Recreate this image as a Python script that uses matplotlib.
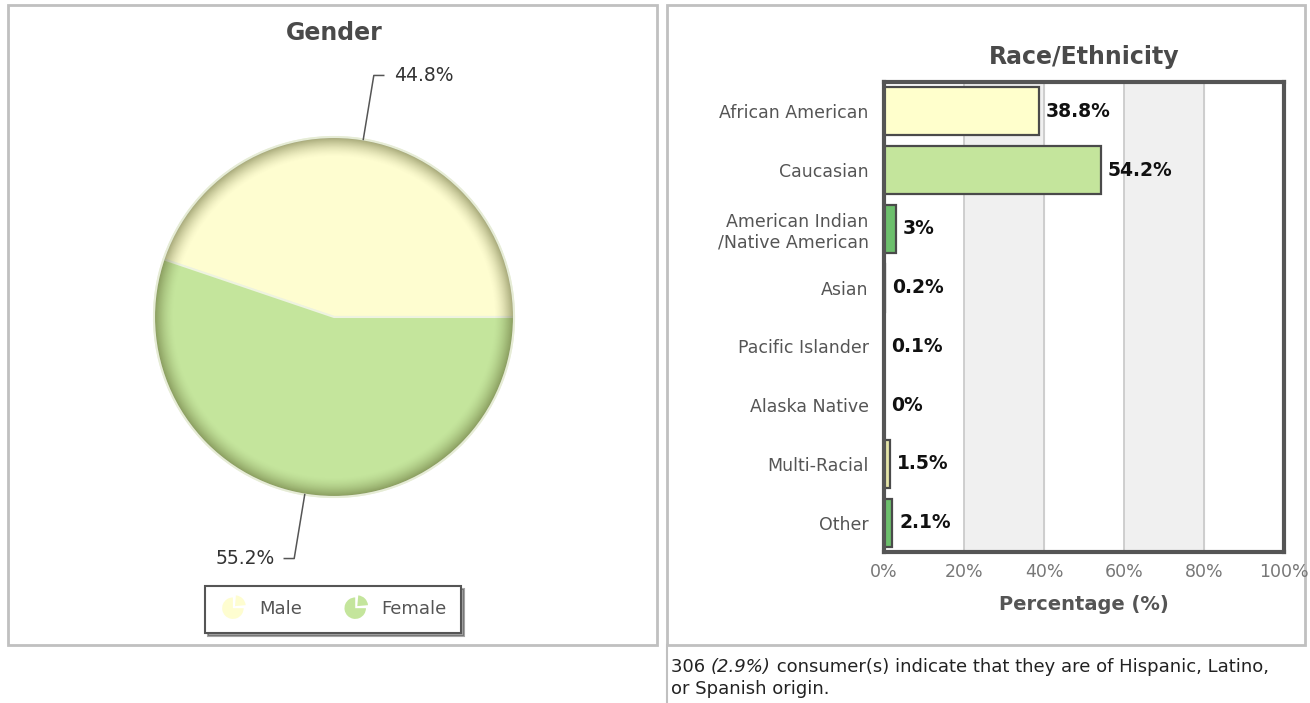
import numpy as np
import matplotlib
matplotlib.use("Agg")
import matplotlib.pyplot as plt
from matplotlib.patches import Wedge, Circle, Rectangle
from matplotlib.legend_handler import HandlerBase

# ---------------- data ----------------
gender_labels = ["Male", "Female"]
gender_values = [44.8, 55.2]
gender_colors = ["#FEFDD0", "#C4E59C"]

race_categories = ["African American", "Caucasian", "American Indian\n/Native American",
                   "Asian", "Pacific Islander", "Alaska Native", "Multi-Racial", "Other"]
race_values = [38.8, 54.2, 3, 0.2, 0.1, 0, 1.5, 2.1]
race_value_labels = ["38.8%", "54.2%", "3%", "0.2%", "0.1%", "0%", "1.5%", "2.1%"]
race_colors = ["#FFFFCC", "#C4E59C", "#6CBF6C", "#FFFFCC", "#C4E59C", "#6CBF6C", "#E4E4A8", "#6CBF6C"]
x_ticks = [0, 20, 40, 60, 80, 100]
x_tick_labels = ["0%", "20%", "40%", "60%", "80%", "100%"]

hispanic_count = "306"
hispanic_pct = "(2.9%)"

W, H = 1310, 703
fig = plt.figure(figsize=(W / 100, H / 100), dpi=100)
fig.patch.set_facecolor("white")

def fx(px):
    return px / W

def fy(py):
    return 1 - py / H

# overlay axes in pixel coordinates
ov = fig.add_axes([0, 0, 1, 1], zorder=0)
ov.set_xlim(0, W)
ov.set_ylim(H, 0)
ov.axis("off")
ov.add_patch(Rectangle((8, 5), 649, 640, fill=False, edgecolor="#C0C0C0", lw=2))
ov.add_patch(Rectangle((667, 5), 638, 640, fill=False, edgecolor="#C0C0C0", lw=2))
ov.plot([667, 667], [645, 703], color="#C0C0C0", lw=1.5)

# ---------------- pie ----------------
cx, cy, R = 334, 317, 180
pax = fig.add_axes([fx(9), fy(644), fx(647), (644 - 6) / H], zorder=2)

wedges, _ = pax.pie(gender_values, colors=gender_colors, startangle=0, counterclock=True,
                    radius=1.0, center=(0, 0), frame=True,
                    wedgeprops=dict(edgecolor="#EEF3E0", linewidth=1.5))

# rim shading
n = 400
g = np.linspace(-1, 1, n)
X, Y = np.meshgrid(g, g)
rr = np.sqrt(X ** 2 + Y ** 2)
alpha = 0.5 * np.clip((rr - 0.89) / 0.11, 0, 1) ** 1.6
img = np.zeros((n, n, 4))
img[..., 0] = 0.30
img[..., 1] = 0.32
img[..., 2] = 0.12
img[..., 3] = alpha
circ = Circle((0, 0), 1.0, transform=pax.transData, facecolor="none")
im = pax.imshow(img, extent=[-1, 1, -1, 1], origin="lower", zorder=3, interpolation="bilinear")
im.set_clip_path(circ)
pax.add_patch(Circle((0, 0), 1.0, fill=False, edgecolor="#E6ECD6", lw=1.5, zorder=4))

# leader lines + labels
start = 0.0
total = sum(gender_values)
for v in gender_values:
    mid = np.deg2rad(start + 360 * v / total / 2)
    ex, ey = np.cos(mid), np.sin(mid)
    kx, ky = 1.36 * ex, 1.36 * ey
    sgn = 1 if ex >= 0 else -1
    pax.plot([ex, kx, kx + sgn * 0.055], [ey, ky, ky], color="#555555", lw=1.1, zorder=5)
    pax.text(kx + sgn * 0.11, ky, f"{v}%", ha="left" if sgn > 0 else "right", va="center",
             fontsize=13.5, color="#333333", zorder=5)
    start += 360 * v / total

pax.text(0, (cy - 33) / R, "Gender", ha="center", va="center", fontsize=17,
         fontweight="bold", color="#4A4A4A")

pax.set_xlim((9 - cx) / R, (656 - cx) / R)
pax.set_ylim(-(644 - cy) / R, (cy - 6) / R)
pax.set_aspect("auto")
pax.axis("off")


class PieIcon(HandlerBase):
    def create_artists(self, legend, orig_handle, xdescent, ydescent, width, height, fontsize, trans):
        c = (width / 2 - xdescent, height / 2 - ydescent)
        r = height * 0.85
        fc = orig_handle.get_facecolor()
        w1 = Wedge(c, r, 90, 360, facecolor=fc, edgecolor="none", transform=trans)
        w2 = Wedge((c[0] + 1.5, c[1] + 1.5), r, 5, 85, facecolor=fc, edgecolor="none", transform=trans)
        return [w1, w2]


leg = pax.legend(wedges, gender_labels, handler_map={Wedge: PieIcon()}, loc="center",
                 bbox_to_anchor=(fx(333), fy(609.5)), bbox_transform=fig.transFigure,
                 ncol=2, frameon=True, fancybox=False, shadow=True, fontsize=13,
                 handlelength=1.5, handletextpad=0.7, columnspacing=2.2,
                 borderpad=0.8, labelcolor="#555555")
leg.get_frame().set_edgecolor("#555555")
leg.get_frame().set_linewidth(1.5)

# ---------------- bar chart ----------------
x0, x1, y0, y1 = 884, 1284, 82, 552
bax = fig.add_axes([fx(x0), fy(y1), (x1 - x0) / W, (y1 - y0) / H], zorder=2)
ypos = np.arange(len(race_categories))
bax.set_xlim(0, 100)
bax.set_ylim(len(race_categories) - 0.5, -0.5)
for a, b in [(20, 40), (60, 80)]:
    bax.axvspan(a, b, color="#F0F0F0", zorder=0)
for t in x_ticks[1:-1]:
    bax.axvline(t, color="#C8C8C8", lw=1.2, zorder=1)
bax.barh(ypos, race_values, height=0.82, color=race_colors, edgecolor="#4A4A4A",
         linewidth=1.6, zorder=2)
for yv, v, lab in zip(ypos, race_values, race_value_labels):
    bax.annotate(lab, xy=(v, yv), xytext=(5, 0), textcoords="offset points",
                 ha="left", va="center", fontsize=13.5, fontweight="bold", color="#111111", zorder=3)
for s in bax.spines.values():
    s.set_linewidth(3)
    s.set_color("#555555")
bax.set_yticks(ypos)
bax.set_yticklabels(race_categories, fontsize=12.5, color="#555555")
bax.set_xticks(x_ticks)
bax.set_xticklabels(x_tick_labels, fontsize=12.5, color="#777777")
bax.tick_params(axis="both", length=0)
bax.tick_params(axis="y", pad=11)
bax.tick_params(axis="x", pad=8)
bax.set_xlabel("Percentage (%)", fontsize=14, fontweight="bold", color="#555555", labelpad=10)
fig.text(fx(1084), fy(57), "Race/Ethnicity", ha="center", va="center", fontsize=17,
         fontweight="bold", color="#4A4A4A")

# ---------------- bottom note ----------------
fs_note = 13
t1 = ov.text(671, 667, hispanic_count + " ", ha="left", va="center", fontsize=fs_note, color="#222222")
t2 = ov.annotate(hispanic_pct, xy=(1, 0), xycoords=t1, xytext=(0, 0), textcoords="offset points",
                 ha="left", va="bottom", fontsize=fs_note, style="italic", color="#222222")
t3 = ov.annotate(" consumer(s) indicate that they are of Hispanic, Latino,", xy=(1, 0), xycoords=t2,
                 xytext=(0, 0), textcoords="offset points", ha="left", va="bottom",
                 fontsize=fs_note, color="#222222")
ov.text(671, 689, "or Spanish origin.", ha="left", va="center", fontsize=fs_note, color="#222222")

fig.savefig("out.png", dpi=100, facecolor="white")
